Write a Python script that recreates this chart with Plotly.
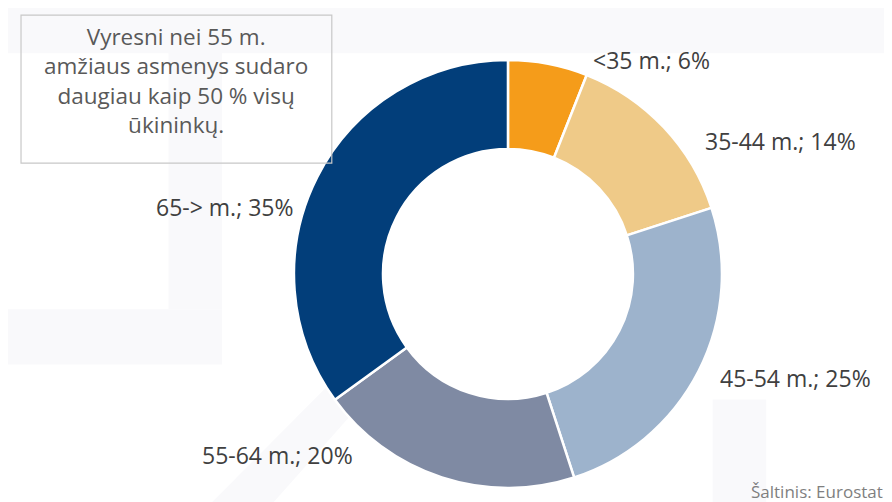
import plotly.graph_objects as go

# Amžiaus grupės ir jų dalys (%)
labels = ["<35 m.", "35-44 m.", "45-54 m.", "55-64 m.", "65-> m."]
shares = [6, 14, 25, 20, 35]
colors = ["#F59C1A", "#EFCA88", "#9DB3CC", "#7F8AA3", "#023E7A"]

# label positions (paper coords) for the outside captions
label_x = [0.721, 0.866, 0.883, 0.302, 0.243]
label_y = [0.896, 0.735, 0.263, 0.110, 0.604]

note = "Vyresni nei 55 m.<br>amžiaus asmenys sudaro<br>daugiau kaip 50 % visų<br>ūkininkų."
source = "Šaltinis: Eurostat"

fig = go.Figure(go.Pie(
    labels=labels,
    values=shares,
    hole=0.584,
    sort=False,
    direction="clockwise",
    rotation=0,
    marker=dict(colors=colors, line=dict(color="white", width=2.5)),
    textinfo="none",
    hoverinfo="label+percent",
    domain=dict(x=[0.3206, 0.8004], y=[0.0439, 0.8965]),
    showlegend=False,
))

# faint background watermark
wm = "#F9F9FB"
shapes = [
    dict(type="rect", xref="paper", yref="paper", x0=0, x1=1, y0=0.91, y1=1,
         fillcolor=wm, line_width=0, layer="below"),
    dict(type="rect", xref="paper", yref="paper", x0=0.18, x1=0.24, y0=0.4, y1=1,
         fillcolor=wm, line_width=0, layer="below"),
    dict(type="rect", xref="paper", yref="paper", x0=0.0, x1=0.24, y0=0.29, y1=0.4,
         fillcolor=wm, line_width=0, layer="below"),
    dict(type="path", xref="paper", yref="paper",
         path="M 0.22 0 L 0.36 0.25 L 0.40 0.22 L 0.29 0 Z",
         fillcolor=wm, line_width=0, layer="below"),
    dict(type="rect", xref="paper", yref="paper", x0=0.79, x1=0.85, y0=0, y1=0.22,
         fillcolor=wm, line_width=0, layer="below"),
    # note box
    dict(type="rect", xref="paper", yref="paper", x0=0.0146, x1=0.363, y0=0.691, y1=0.986,
         fillcolor="rgba(0,0,0,0)", line=dict(color="#C8C8C8", width=1.2)),
]

annotations = [
    dict(x=x, y=y, xref="paper", yref="paper", text=f"{l}; {s}%", showarrow=False,
         font=dict(size=23, color="#404040"), xanchor="center", yanchor="middle")
    for l, s, x, y in zip(labels, shares, label_x, label_y)
]
annotations.append(dict(x=0.188, y=0.855, xref="paper", yref="paper", text=note,
                        showarrow=False, align="center", xanchor="center", yanchor="middle",
                        font=dict(size=22.5, color="#595959")))
annotations.append(dict(x=0.983, y=0.036, xref="paper", yref="paper", text=source,
                        showarrow=False, xanchor="right", yanchor="middle",
                        font=dict(size=17, color="#7F7F7F")))

fig.update_layout(
    width=892, height=502,
    margin=dict(l=0, r=0, t=0, b=0),
    paper_bgcolor="white",
    font=dict(family="Open Sans, sans-serif"),
    shapes=shapes,
    annotations=annotations,
)

fig.write_html("out.html")
